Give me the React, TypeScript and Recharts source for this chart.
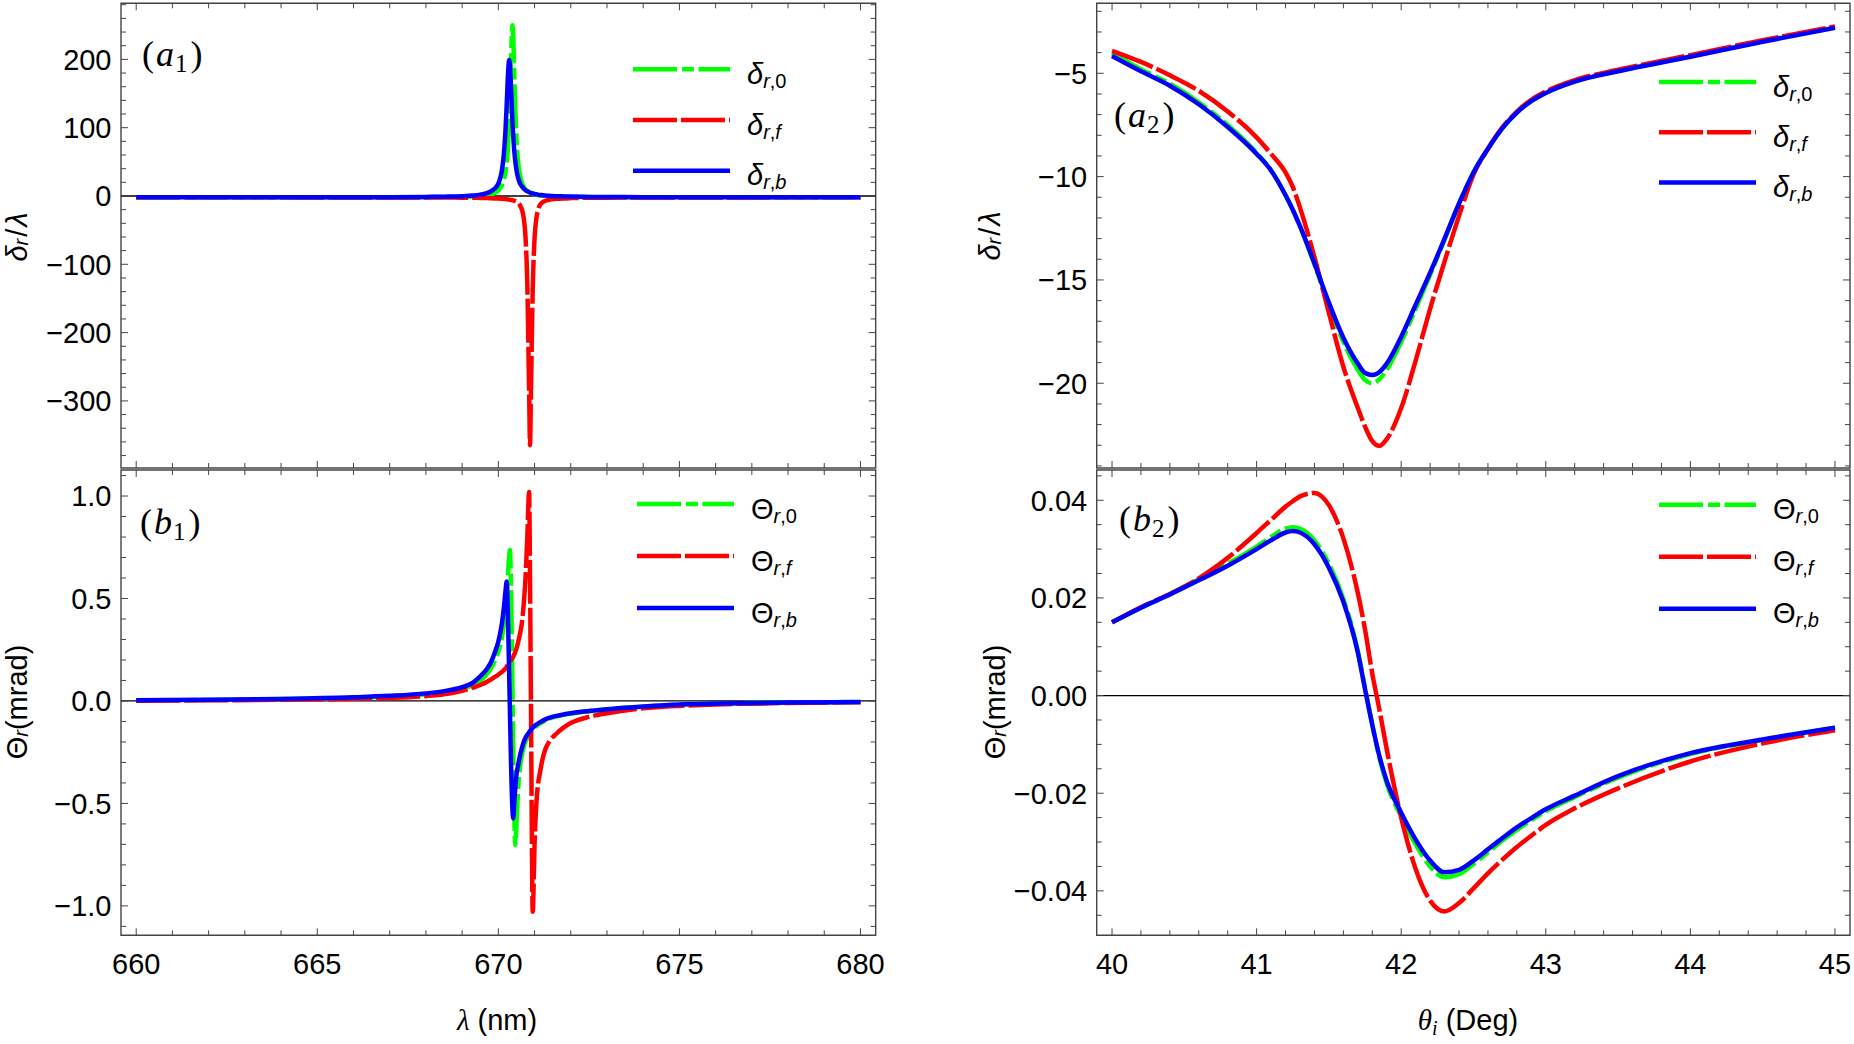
import React from "react";
import { LineChart, Line, XAxis, YAxis, ReferenceLine, ReferenceArea } from "recharts";

// ---- left column: wavelength scan (nm) ----
const lambdaNm = [
  660, 662, 664, 666, 667, 668, 668.5, 669, 669.3, 669.5, 669.7, 669.8, 669.9, 670.0, 670.05,
  670.1, 670.15, 670.2, 670.23, 670.26, 670.3, 670.32, 670.35, 670.39, 670.41, 670.44, 670.47,
  670.5, 670.55, 670.6, 670.65, 670.7, 670.75, 670.8, 670.85, 670.875, 670.9, 670.95, 671.0,
  671.05, 671.1, 671.15, 671.2, 671.3, 671.4, 671.6, 671.8, 672, 672.5, 673, 674, 675, 676, 678, 680,
];

// delta_r / lambda
const deltaR0 = [
  -2.0, -1.97, -1.95, -1.9, -1.86, -1.72, -1.55, -1.17, -0.65, 0.0, 1.3, 2.5, 4.5, 8.2, 11.2,
  15.9, 23, 36, 48, 67, 109, 141, 200, 250, 235, 179, 124,
  85, 48, 30, 19.8, 13.7, 9.9, 7.2, 5.4, 4.7, 4.1, 3.0, 2.3,
  1.65, 1.16, 0.77, 0.43, -0.06, -0.42, -0.9, -1.19, -1.4, -1.64, -1.76, -1.87, -1.9, -1.93, -1.96, -1.98,
];
const deltaRf = [
  -2.0, -2.0, -2.0, -2.1, -2.1, -2.2, -2.3, -2.4, -2.6, -2.8, -3.1, -3.3, -3.5, -3.8, -3.9,
  -4.1, -4.3, -4.6, -4.8, -5.0, -5.3, -5.5, -5.8, -6.2, -6.5, -7.0, -7.5,
  -8.2, -10, -14, -20, -32, -60, -130, -285, -365, -290, -135, -62,
  -33, -20, -13, -10, -7, -5.5, -4.2, -3.5, -3.1, -2.6, -2.4, -2.2, -2.1, -2.1, -2.0, -2.0,
];
const deltaRb = [
  -2.0, -2.0, -1.9, -1.8, -1.7, -1.4, -1.0, -0.3, 0.7, 2.0, 4.5, 7.0, 11.0, 18.1, 25.7,
  38.2, 59.8, 98.5, 133, 171, 199, 191, 158.8, 109, 89, 66, 49.7,
  38.2, 25.7, 18.1, 14, 11, 8.5, 7.0, 5.6, 5.0, 4.5, 3.7, 3.0,
  2.5, 2.0, 1.6, 1.3, 0.7, 0.2, -0.3, -0.6, -0.9, -1.3, -1.5, -1.75, -1.8, -1.9, -1.95, -2.0,
];

// Theta_r (mrad)
const thetaR0 = [
  0.002, 0.005, 0.009, 0.016, 0.022, 0.033, 0.043, 0.06, 0.078, 0.1, 0.135, 0.16, 0.195, 0.24, 0.27,
  0.31, 0.37, 0.45, 0.52, 0.6, 0.71, 0.737, 0.55, 0.05, -0.2, -0.55, -0.703,
  -0.6, -0.42, -0.32, -0.265, -0.225, -0.198, -0.18, -0.166, -0.159, -0.152, -0.141, -0.131,
  -0.123, -0.116, -0.11, -0.105, -0.095, -0.087, -0.076, -0.068, -0.062, -0.05, -0.041, -0.028, -0.018, -0.013, -0.008, -0.005,
];
const thetaRf = [
  0.001, 0.003, 0.006, 0.011, 0.015, 0.024, 0.033, 0.05, 0.065, 0.078, 0.095, 0.105, 0.117, 0.128, 0.135,
  0.142, 0.15, 0.16, 0.167, 0.175, 0.185, 0.192, 0.2, 0.21, 0.216, 0.228, 0.24,
  0.255, 0.29, 0.33, 0.38, 0.47, 0.6, 0.8, 1.02, 0.6, 0.0, -1.028, -0.7,
  -0.5, -0.4, -0.35, -0.3, -0.235, -0.2, -0.16, -0.13, -0.108, -0.078, -0.06, -0.036, -0.024, -0.017, -0.01, -0.006,
];
const thetaRb = [
  0.003, 0.006, 0.01, 0.018, 0.025, 0.037, 0.048, 0.068, 0.09, 0.12, 0.16, 0.19, 0.235, 0.29, 0.33,
  0.38, 0.45, 0.54, 0.582, 0.45, 0.12, -0.05, -0.3, -0.53, -0.573, -0.5, -0.42,
  -0.36, -0.31, -0.265, -0.23, -0.2, -0.18, -0.165, -0.153, -0.147, -0.141, -0.131, -0.122,
  -0.115, -0.109, -0.104, -0.099, -0.09, -0.083, -0.073, -0.066, -0.06, -0.049, -0.04, -0.027, -0.017, -0.013, -0.008, -0.005,
];

// ---- right column: incidence angle scan (deg) ----
const angleDeg = [
  40.0, 40.2, 40.4, 40.6, 40.8, 41.0, 41.1, 41.2, 41.25, 41.3, 41.4, 41.5, 41.6, 41.7, 41.75, 41.8,
  41.85, 41.9, 42.0, 42.1, 42.2, 42.3, 42.4, 42.5, 42.6, 42.7, 42.8, 42.9, 43.0, 43.2, 43.5, 44.0, 44.5, 45.0,
];
const deltaAng0 = [
  -4.03, -4.8, -5.5, -6.4, -7.5, -8.85, -9.7, -10.9, -11.6, -12.4, -14.25, -16.2, -18.0, -19.35, -19.85, -20.0,
  -19.8, -19.35, -18.0, -16.4, -14.75, -13.05, -11.3, -9.8, -8.65, -7.65, -6.9, -6.33, -5.93, -5.38, -4.88, -4.18, -3.45, -2.78,
];
const deltaAngF = [
  -3.91, -4.45, -5.1, -5.85, -6.85, -8.1, -8.9, -9.8, -10.5, -11.5, -13.9, -16.6, -19.2, -21.2, -22.1, -22.8,
  -23.03, -22.7, -21.2, -18.9, -16.4, -14.1, -11.9, -9.9, -8.65, -7.62, -6.85, -6.28, -5.88, -5.33, -4.83, -4.12, -3.4, -2.73,
];
const deltaAngB = [
  -4.16, -4.9, -5.6, -6.5, -7.6, -8.9, -9.7, -10.9, -11.6, -12.4, -14.2, -16.1, -17.8, -19.05, -19.5, -19.6,
  -19.45, -19.05, -17.75, -16.2, -14.65, -13.0, -11.3, -9.8, -8.65, -7.65, -6.9, -6.35, -5.95, -5.4, -4.9, -4.2, -3.47, -2.8,
];
const thetaAng0 = [
  0.015, 0.018, 0.0208, 0.0238, 0.027, 0.0305, 0.0325, 0.0342, 0.0345, 0.0342, 0.0318, 0.027, 0.0198, 0.0092, 0.0015, -0.006,
  -0.0128, -0.018, -0.0248, -0.0305, -0.035, -0.0372, -0.0366, -0.0345, -0.0321, -0.0297, -0.0275, -0.0255, -0.0237, -0.0208, -0.0168, -0.012, -0.0091, -0.0066,
];
const thetaAngF = [
  0.015, 0.0181, 0.0208, 0.024, 0.0282, 0.0333, 0.036, 0.0387, 0.0398, 0.0408, 0.0415, 0.039, 0.0322, 0.021, 0.0135, 0.0045,
  -0.003, -0.011, -0.025, -0.0355, -0.042, -0.0442, -0.0425, -0.0395, -0.0364, -0.0336, -0.031, -0.0287, -0.0265, -0.0231, -0.019, -0.0135, -0.0098, -0.0071,
];
const thetaAngB = [
  0.015, 0.018, 0.0207, 0.0236, 0.0266, 0.03, 0.0318, 0.0334, 0.0337, 0.0334, 0.031, 0.0262, 0.0192, 0.0088, 0.0013, -0.006,
  -0.0125, -0.0175, -0.024, -0.0295, -0.0338, -0.0362, -0.0357, -0.0338, -0.0315, -0.0292, -0.027, -0.0251, -0.0233, -0.0205, -0.0165, -0.0118, -0.009, -0.0066,
];

const leftRows = lambdaNm.map((x, i) => ({
  x, d0: deltaR0[i], df: deltaRf[i], db: deltaRb[i], t0: thetaR0[i], tf: thetaRf[i], tb: thetaRb[i],
}));
const rightRows = angleDeg.map((x, i) => ({
  x, d0: deltaAng0[i], df: deltaAngF[i], db: deltaAngB[i], t0: thetaAng0[i], tf: thetaAngF[i], tb: thetaAngB[i],
}));

const lambdaTicks = Array.from({ length: 21 }, (_, i) => 660 + i);
const angleTicks = Array.from({ length: 26 }, (_, i) => 40 + i * 0.2);
const tlTicks = Array.from({ length: 34 }, (_, i) => -380 + 20 * i);
const blTicks = Array.from({ length: 23 }, (_, i) => (i - 11) / 10);
const trTicks = Array.from({ length: 23 }, (_, i) => -24 + i);
const brTicks = Array.from({ length: 19 }, (_, i) => (i - 9) * 0.005);

const SANS = "'Liberation Sans', Arial, sans-serif";
const SERIF = "'Liberation Serif', 'Times New Roman', serif";
const FRAME = "#444";
const GREEN = "#00ff00";
const RED = "#ff0000";
const BLUE = "#0000ff";
const DASH_GREEN = "44 5 12 4.5";
const DASH_RED = "44 4";

const minus = (s: string) => s.replace("-", "\u2212");
const fmtInt = (v: number) => minus(String(Math.round(v)));
const fmtFixed = (d: number) => (v: number) => minus((Math.abs(v) < 1e-9 ? 0 : v).toFixed(d));
const isMultiple = (v: number, step: number) => Math.abs(v / step - Math.round(v / step)) < 1e-6;

type PanelProps = {
  left: number;
  top: number;
  plotX: number;
  plotY: number;
  plotW: number;
  plotH: number;
  xAxisH: number;
  marginRight: number;
  rows: any[];
  keys: [string, string, string];
  xDomain: [number, number];
  yDomain: [number, number];
  xTicks: number[];
  yTicks: number[];
  xMajor: number;
  yMajor: number;
  xLabels: boolean;
  yFmt: (v: number) => string;
  zeroLine: boolean;
};

function Panel(p: PanelProps) {
  const width = p.plotX - p.left + p.plotW + p.marginRight;
  const height = p.plotY - p.top + p.plotH + p.xAxisH;

  const xTick = (props: any) => {
    const { x, y, payload } = props;
    const major = isMultiple(payload.value, p.xMajor);
    const len = major ? 7 : 5;
    return (
      <g>
        <line x1={x} x2={x} y1={y} y2={y - len} stroke={FRAME} strokeWidth={1} />
        <line x1={x} x2={x} y1={y - p.plotH} y2={y - p.plotH + len} stroke={FRAME} strokeWidth={1} />
        {p.xLabels && major && (
          <text x={x} y={y + 38.7} textAnchor="middle" fontFamily={SANS} fontSize={29} fill="#000">
            {fmtInt(payload.value)}
          </text>
        )}
      </g>
    );
  };

  const yTick = (props: any) => {
    const { x, y, payload } = props;
    const major = isMultiple(payload.value, p.yMajor);
    const len = major ? 7 : 5;
    return (
      <g>
        <line x1={x} x2={x + len} y1={y} y2={y} stroke={FRAME} strokeWidth={1} />
        <line x1={x + p.plotW} x2={x + p.plotW - len} y1={y} y2={y} stroke={FRAME} strokeWidth={1} />
        {major && (
          <text x={x - 9.5} y={y + 10.4} textAnchor="end" fontFamily={SANS} fontSize={29} fill="#000">
            {p.yFmt(payload.value)}
          </text>
        )}
      </g>
    );
  };

  return (
    <div style={{ position: "absolute", left: p.left, top: p.top }}>
      <LineChart
        width={width}
        height={height}
        data={p.rows}
        margin={{ top: p.plotY - p.top, right: p.marginRight, bottom: 0, left: 0 }}
      >
        <XAxis
          dataKey="x"
          type="number"
          domain={p.xDomain}
          allowDataOverflow
          ticks={p.xTicks}
          interval={0}
          tickSize={0}
          tickMargin={0}
          axisLine={false}
          tickLine={false}
          height={p.xAxisH}
          tick={xTick}
        />
        <YAxis
          type="number"
          domain={p.yDomain}
          allowDataOverflow
          ticks={p.yTicks}
          interval={0}
          tickSize={0}
          tickMargin={0}
          axisLine={false}
          tickLine={false}
          width={p.plotX - p.left}
          tick={yTick}
        />
        <ReferenceArea
          x1={p.xDomain[0]}
          x2={p.xDomain[1]}
          y1={p.yDomain[0]}
          y2={p.yDomain[1]}
          fill="none"
          fillOpacity={0}
          stroke={FRAME}
          strokeWidth={1.4}
          ifOverflow="visible"
        />
        {p.zeroLine && <ReferenceLine y={0} stroke="#000" strokeWidth={1.3} />}
        <Line dataKey={p.keys[0]} type="monotone" stroke={GREEN} strokeWidth={4.5}
          strokeDasharray={DASH_GREEN} dot={false} activeDot={false} isAnimationActive={false} />
        <Line dataKey={p.keys[1]} type="monotone" stroke={RED} strokeWidth={4.5}
          strokeDasharray={DASH_RED} dot={false} activeDot={false} isAnimationActive={false} />
        <Line dataKey={p.keys[2]} type="monotone" stroke={BLUE} strokeWidth={4.5}
          dot={false} activeDot={false} isAnimationActive={false} />
      </LineChart>
    </div>
  );
}

function LegendBox({ x, y, gap, sym, symItalic }: { x: number; y: number; gap: number; sym: string; symItalic: boolean }) {
  const items = [
    { color: GREEN, dash: DASH_GREEN, sub: "0" },
    { color: RED, dash: DASH_RED, sub: "f" },
    { color: BLUE, dash: undefined, sub: "b" },
  ];
  return (
    <g>
      {items.map((it, i) => (
        <g key={it.sub}>
          <line x1={x} x2={x + 97} y1={y + i * gap} y2={y + i * gap} stroke={it.color}
            strokeWidth={4.5} strokeDasharray={it.dash} />
          <text x={x + 114} y={y + i * gap + 14.5} fontFamily={SANS} fontSize={29} fill="#000">
            <tspan fontStyle={symItalic ? "italic" : "normal"}>{sym}</tspan>
            <tspan fontSize={20} dy={4} fontStyle="italic">r</tspan>
            <tspan fontSize={20} fontStyle="normal">,</tspan>
            <tspan fontSize={20} fontStyle={it.sub === "0" ? "normal" : "italic"}>{it.sub}</tspan>
          </text>
        </g>
      ))}
    </g>
  );
}

function PanelTag({ x, y, letter, idx }: { x: number; y: number; letter: string; idx: string }) {
  return (
    <text x={x} y={y} fontFamily={SERIF} fontSize={36} fill="#000">
      (<tspan fontStyle="italic" dx={2}>{letter}</tspan>
      <tspan fontSize={25} dy={6} dx={1}>{idx}</tspan>
      <tspan dy={-6} dx={3}>)</tspan>
    </text>
  );
}

function DeltaTitle({ cx, cy }: { cx: number; cy: number }) {
  return (
    <text transform={`translate(${cx},${cy}) rotate(-90)`} textAnchor="middle" dominantBaseline="central"
      fontFamily={SANS} fontSize={29} fill="#000">
      <tspan fontStyle="italic">δ</tspan>
      <tspan fontSize={20} fontStyle="italic" dy={4}>r</tspan>
      <tspan dy={-4} dx={2}>/</tspan>
      <tspan fontStyle="italic" dx={2}>λ</tspan>
    </text>
  );
}

function ThetaTitle({ cx, cy }: { cx: number; cy: number }) {
  return (
    <text transform={`translate(${cx},${cy}) rotate(-90)`} textAnchor="middle" dominantBaseline="central"
      fontFamily={SANS} fontSize={29} fill="#000">
      <tspan>Θ</tspan>
      <tspan fontSize={20} fontStyle="italic" dy={4}>r</tspan>
      <tspan dy={-4}>(mrad)</tspan>
    </text>
  );
}

export default function App() {
  const LEFT_X = 121, LEFT_W = 754.7;
  const RIGHT_X = 1096.7, RIGHT_W = 753.3;
  const TOP_Y = 3.3, TOP_H = 464.7;
  const BOT_Y = 470, BOT_H = 465.3;
  const lamDomain: [number, number] = [659.58, 680.42];
  const angDomain: [number, number] = [39.894, 45.104];

  return (
    <div style={{ position: "absolute", left: 0, top: 0, width: 1854, height: 1044, background: "#fff", overflow: "hidden" }}>
      <Panel left={0} top={0} plotX={LEFT_X} plotY={TOP_Y} plotW={LEFT_W} plotH={TOP_H} xAxisH={4.7} marginRight={30}
        rows={leftRows} keys={["d0", "df", "db"]} xDomain={lamDomain} yDomain={[-398.2, 282.1]}
        xTicks={lambdaTicks} yTicks={tlTicks} xMajor={5} yMajor={100} xLabels={false} yFmt={fmtInt} zeroLine />
      <Panel left={0} top={460} plotX={LEFT_X} plotY={BOT_Y} plotW={LEFT_W} plotH={BOT_H} xAxisH={108.7} marginRight={30}
        rows={leftRows} keys={["t0", "tf", "tb"]} xDomain={lamDomain} yDomain={[-1.1435, 1.127]}
        xTicks={lambdaTicks} yTicks={blTicks} xMajor={5} yMajor={0.5} xLabels yFmt={fmtFixed(1)} zeroLine />
      <Panel left={960} top={0} plotX={RIGHT_X} plotY={TOP_Y} plotW={RIGHT_W} plotH={TOP_H} xAxisH={4.7} marginRight={4}
        rows={rightRows} keys={["d0", "df", "db"]} xDomain={angDomain} yDomain={[-24.1, -1.613]}
        xTicks={angleTicks} yTicks={trTicks} xMajor={1} yMajor={5} xLabels={false} yFmt={fmtInt} zeroLine={false} />
      <Panel left={960} top={460} plotX={RIGHT_X} plotY={BOT_Y} plotW={RIGHT_W} plotH={BOT_H} xAxisH={108.7} marginRight={4}
        rows={rightRows} keys={["t0", "tf", "tb"]} xDomain={angDomain} yDomain={[-0.0491, 0.0462]}
        xTicks={angleTicks} yTicks={brTicks} xMajor={1} yMajor={0.02} xLabels yFmt={fmtFixed(2)} zeroLine />

      <svg width={1854} height={1044} style={{ position: "absolute", left: 0, top: 0, pointerEvents: "none" }}>
        <LegendBox x={633} y={69.3} gap={50.7} sym="δ" symItalic />
        <LegendBox x={637} y={504} gap={52} sym="Θ" symItalic={false} />
        <LegendBox x={1659} y={82} gap={50.3} sym="δ" symItalic />
        <LegendBox x={1659} y={504.7} gap={52} sym="Θ" symItalic={false} />

        <PanelTag x={142} y={66} letter="a" idx="1" />
        <PanelTag x={1114} y={127} letter="a" idx="2" />
        <PanelTag x={140} y={534} letter="b" idx="1" />
        <PanelTag x={1119} y={531} letter="b" idx="2" />

        <DeltaTitle cx={17} cy={237} />
        <DeltaTitle cx={990} cy={236} />
        <ThetaTitle cx={17} cy={702} />
        <ThetaTitle cx={995} cy={702} />

        <text x={497} y={1030} textAnchor="middle" fontSize={29} fill="#000">
          <tspan fontFamily={SERIF} fontStyle="italic">λ</tspan>
          <tspan fontFamily={SANS}> (nm)</tspan>
        </text>
        <text x={1468} y={1030} textAnchor="middle" fontSize={29} fill="#000">
          <tspan fontFamily={SERIF} fontStyle="italic">θ</tspan>
          <tspan fontFamily={SERIF} fontStyle="italic" fontSize={20} dy={5}>i</tspan>
          <tspan fontFamily={SANS} dy={-5}> (Deg)</tspan>
        </text>
      </svg>
    </div>
  );
}
